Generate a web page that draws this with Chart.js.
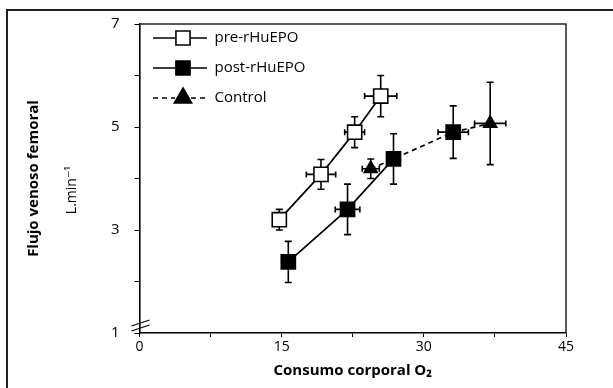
<!DOCTYPE html>
<html>
<head>
<meta charset="utf-8">
<script src="https://cdn.jsdelivr.net/npm/chart.js@4.4.1/dist/chart.umd.min.js"></script>
<style>
    html, body { margin: 0; padding: 0; background: #fff; }
    #wrap { position: relative; width: 613px; height: 388px; }
    #frame {
        position: absolute; left: 6px; top: 9px; right: 0; bottom: 0;
        border-top: 2px solid #222; border-left: 2px solid #222;
    }
    #chart { position: absolute; left: 0; top: 0; }
</style>
</head>
<body>
<div id="wrap">
    <div id="frame"></div>
    <canvas id="chart" width="613" height="388"></canvas>
</div>
<script>
// Flujo venoso femoral vs consumo corporal de O2
const seriesLabels = ['pre-rHuEPO', 'post-rHuEPO', 'Control'];

const preX = [14.75, 19.15, 22.7, 25.45];
const preY = [3.2, 4.08, 4.9, 5.6];
const preYErr = [0.2, 0.29, 0.3, 0.4];
const preXErr = [0, 1.55, 1.05, 1.7];

const postX = [15.7, 21.95, 26.8, 33.1];
const postY = [2.38, 3.4, 4.38, 4.9];
const postYErr = [0.4, 0.49, 0.49, 0.51];
const postXErr = [0, 1.3, 0, 1.6];

// control shares its two middle points with post-rHuEPO (hidden behind the squares)
const ctrlX = [24.4, 26.8, 33.1, 37.0];
const ctrlY = [4.19, 4.38, 4.9, 5.07];
const ctrlYErr = [0.19, 0, 0, 0.8];
const ctrlXErr = [0.9, 0, 0, 1.65];

const xTicks = [0, 15, 30, 45];
const yTicks = [1, 3, 5, 7];

const FONT = "'Open Sans', 'DejaVu Sans', sans-serif";
const INK = '#000';

function toPoints(xs, ys) {
    return xs.map((x, i) => ({ x: x, y: ys[i] }));
}

// Draw a marker the way the figure does (open / filled square, triangle)
function drawMarker(ctx, style, filled, r, x, y) {
    ctx.save();
    ctx.lineWidth = 1.6;
    ctx.strokeStyle = INK;
    ctx.fillStyle = filled ? INK : '#fff';
    ctx.setLineDash([]);
    ctx.beginPath();
    if (style === 'rect') {
        const s = r * Math.SQRT1_2;
        ctx.rect(x - s, y - s, 2 * s, 2 * s);
    } else {
        const w = r * Math.sin(Math.PI / 3);
        ctx.moveTo(x, y - r);
        ctx.lineTo(x + w, y + r / 2);
        ctx.lineTo(x - w, y + r / 2);
        ctx.closePath();
    }
    ctx.fill();
    ctx.stroke();
    ctx.restore();
}

// Error bars (vertical and horizontal) under the markers
const errorBars = {
    id: 'errorBars',
    beforeDatasetsDraw(chart) {
        const ctx = chart.ctx;
        const sx = chart.scales.x, sy = chart.scales.y;
        ctx.save();
        ctx.strokeStyle = INK;
        ctx.lineWidth = 1.6;
        chart.data.datasets.forEach(ds => {
            ds.data.forEach((p, i) => {
                const px = sx.getPixelForValue(p.x);
                const py = sy.getPixelForValue(p.y);
                const ye = ds.yErr[i], xe = ds.xErr[i];
                ctx.beginPath();
                if (ye) {
                    const t = sy.getPixelForValue(p.y + ye);
                    const b = sy.getPixelForValue(p.y - ye);
                    ctx.moveTo(px, t); ctx.lineTo(px, b);
                    ctx.moveTo(px - 3.5, t); ctx.lineTo(px + 3.5, t);
                    ctx.moveTo(px - 3.5, b); ctx.lineTo(px + 3.5, b);
                }
                if (xe) {
                    const l = sx.getPixelForValue(p.x - xe);
                    const r = sx.getPixelForValue(p.x + xe);
                    ctx.moveTo(l, py); ctx.lineTo(r, py);
                    ctx.moveTo(l, py - 3); ctx.lineTo(l, py + 3);
                    ctx.moveTo(r, py - 3); ctx.lineTo(r, py + 3);
                }
                ctx.stroke();
            });
        });
        ctx.restore();
    }
};

// Box top/right, axis break, unit label and the inset legend
const decorations = {
    id: 'decorations',
    afterDraw(chart) {
        const ctx = chart.ctx;
        const a = chart.chartArea;
        ctx.save();

        // top and right sides of the plot box
        ctx.strokeStyle = '#222';
        ctx.lineWidth = 1.5;
        ctx.beginPath();
        ctx.moveTo(a.left, a.top);
        ctx.lineTo(a.right, a.top);
        ctx.lineTo(a.right, a.bottom);
        ctx.stroke();

        // axis break on the y axis
        ctx.strokeStyle = INK;
        ctx.lineWidth = 1.2;
        ctx.beginPath();
        ctx.moveTo(a.left - 8, a.bottom - 7);
        ctx.lineTo(a.left + 10, a.bottom - 13);
        ctx.moveTo(a.left - 8, a.bottom - 2);
        ctx.lineTo(a.left + 10, a.bottom - 8);
        ctx.stroke();

        // unit label
        ctx.fillStyle = INK;
        ctx.font = '14px ' + FONT;
        ctx.textAlign = 'center';
        ctx.textBaseline = 'middle';
        ctx.translate(72, 190);
        ctx.rotate(-Math.PI / 2);
        ctx.fillText('L.min\u207B\u00B9', 0, 0);
        ctx.setTransform(1, 0, 0, 1, 0, 0);

        // legend rows
        chart.data.datasets.forEach((ds, i) => {
            const y = a.top + 14 + i * 30;
            const x0 = a.left + 13.5, xm = a.left + 43.5, x1 = a.left + 67.5;
            ctx.strokeStyle = INK;
            ctx.lineWidth = 1.6;
            ctx.setLineDash(ds.borderDash || []);
            ctx.beginPath();
            ctx.moveTo(x0, y); ctx.lineTo(xm - 8, y);
            ctx.moveTo(xm + 8, y); ctx.lineTo(x1, y);
            ctx.stroke();
            ctx.setLineDash([]);
            drawMarker(ctx, ds.pointStyle, ds.pointBackgroundColor === INK, 10, xm, y);
            ctx.fillStyle = INK;
            ctx.font = '15px ' + FONT;
            ctx.textAlign = 'left';
            ctx.fillText(ds.label, a.left + 75, y);
        });
        ctx.restore();
    }
};

const ctx = document.getElementById('chart').getContext('2d');

new Chart(ctx, {
    type: 'scatter',
    data: {
        datasets: [
            {
                label: seriesLabels[0],
                data: toPoints(preX, preY),
                xErr: preXErr,
                yErr: preYErr,
                showLine: true,
                borderColor: INK,
                borderWidth: 1.7,
                pointStyle: 'rect',
                pointRadius: 10,
                pointBorderWidth: 1.6,
                pointBackgroundColor: '#fff',
                pointBorderColor: INK,
                order: 1
            },
            {
                label: seriesLabels[1],
                data: toPoints(postX, postY),
                xErr: postXErr,
                yErr: postYErr,
                showLine: true,
                borderColor: INK,
                borderWidth: 1.7,
                // last segment is covered by the dashed control line
                segment: {
                    borderColor: c => c.p0DataIndex === 2 ? 'rgba(0,0,0,0)' : INK
                },
                pointStyle: 'rect',
                pointRadius: 10,
                pointBorderWidth: 1.6,
                pointBackgroundColor: INK,
                pointBorderColor: INK,
                order: 2
            },
            {
                label: seriesLabels[2],
                data: toPoints(ctrlX, ctrlY),
                xErr: ctrlXErr,
                yErr: ctrlYErr,
                showLine: true,
                borderColor: INK,
                borderWidth: 1.7,
                borderDash: [5, 4],
                pointStyle: 'triangle',
                pointRadius: [7.5, 0, 0, 7.5],
                pointBorderWidth: 1.6,
                pointBackgroundColor: INK,
                pointBorderColor: INK,
                order: 3
            }
        ]
    },
    options: {
        responsive: false,
        animation: false,
        events: [],
        layout: {
            padding: { left: 0, top: 19, right: 47, bottom: 0 }
        },
        plugins: {
            legend: { display: false },
            tooltip: { enabled: false }
        },
        scales: {
            x: {
                type: 'linear',
                min: 0,
                max: 45,
                afterFit: s => { s.height = 55; },
                afterBuildTicks: s => {
                    s.ticks = [0, 7.5, 15, 22.5, 30, 37.5, 45].map(v => ({ value: v }));
                },
                ticks: {
                    color: INK,
                    font: { family: FONT, size: 14 },
                    padding: 2,
                    maxRotation: 0,
                    autoSkip: false,
                    callback: v => xTicks.includes(v) ? String(v) : ''
                },
                grid: {
                    drawOnChartArea: false,
                    color: INK,
                    tickLength: 4
                },
                border: { color: INK, width: 1.6 },
                title: {
                    display: true,
                    text: 'Consumo corporal O\u2082',
                    color: INK,
                    font: { family: FONT, size: 15, weight: 'bold' },
                    padding: { top: 0, bottom: 8 }
                }
            },
            y: {
                type: 'linear',
                min: 1,
                max: 7,
                afterFit: s => { s.width = 139.5; },
                ticks: {
                    stepSize: 1,
                    color: INK,
                    font: { family: FONT, size: 15 },
                    padding: 15,
                    autoSkip: false,
                    callback: v => yTicks.includes(v) ? String(v) : ''
                },
                grid: {
                    drawOnChartArea: false,
                    color: INK,
                    tickLength: 5
                },
                border: { color: INK, width: 1.6 },
                title: {
                    display: true,
                    text: 'Flujo venoso femoral',
                    color: INK,
                    font: { family: FONT, size: 15, weight: 'bold' },
                    padding: { top: 25, bottom: 0 }
                }
            }
        }
    },
    plugins: [errorBars, decorations]
});
</script>
</body>
</html>
